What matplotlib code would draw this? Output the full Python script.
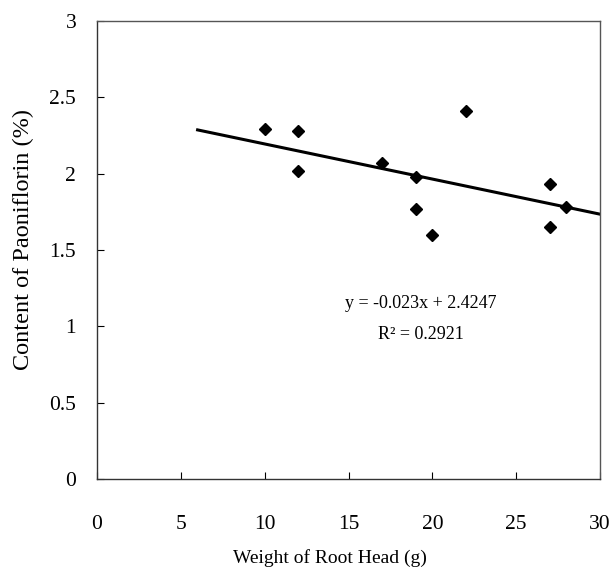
import numpy as np
import matplotlib
matplotlib.use("Agg")
import matplotlib.pyplot as plt

# Weight of root head (g) and paeoniflorin content (%)
weight = [10, 12, 12, 17, 19, 19, 20, 22, 27, 27, 28]
content = [2.29, 2.28, 2.02, 2.07, 1.98, 1.77, 1.60, 2.41, 1.93, 1.65, 1.78]

# trend line given on the chart
slope = -0.023
intercept = 2.4247
r2 = 0.2921
trend_x = [6, 30]

x_ticks = [0, 5, 10, 15, 20, 25, 30]
y_ticks = [0, 0.5, 1, 1.5, 2, 2.5, 3]

plt.rcParams["font.family"] = ["Liberation Serif", "DejaVu Serif"]

fig = plt.figure(figsize=(6.1, 5.71), dpi=100)
ax = fig.add_axes([97 / 610, 1 - 479 / 571, 503 / 610, 458 / 571])

ax.plot(weight, content, "D", color="black", markersize=6.2, zorder=3)
tx = np.array(trend_x, dtype=float)
ax.plot(tx, slope * tx + intercept, color="black", lw=2.2)

ax.text(19.3, 1.15, f"y = {slope}x + {intercept}", ha="center", va="center", fontsize=13)
ax.text(19.3, 0.945, f"R² = {r2}", ha="center", va="center", fontsize=13)

ax.set_xlim(0, 30)
ax.set_ylim(0, 3)
ax.set_xticks(x_ticks)
ax.set_yticks(y_ticks)
ax.set_xticklabels([str(v) for v in x_ticks])
ax.set_yticklabels([f"{v:g}" for v in y_ticks])
ax.tick_params(direction="in", length=5, width=0.8, labelsize=15.5)
ax.tick_params(axis="x", pad=26)
ax.tick_params(axis="y", pad=15)

for side in ["left", "bottom"]:
    ax.spines[side].set_color("#333333")
    ax.spines[side].set_linewidth(1)
for side in ["top", "right"]:
    ax.spines[side].set_color("#555555")
    ax.spines[side].set_linewidth(1)

ax.set_xlabel("Weight of Root Head (g)", fontsize=14)
ax.xaxis.set_label_coords(0.463, -0.153)
ax.set_ylabel("Content of Paoniflorin (%)", fontsize=17.5)
ax.yaxis.set_label_coords(-0.125, 0.522)

fig.savefig("out.png", dpi=100)
